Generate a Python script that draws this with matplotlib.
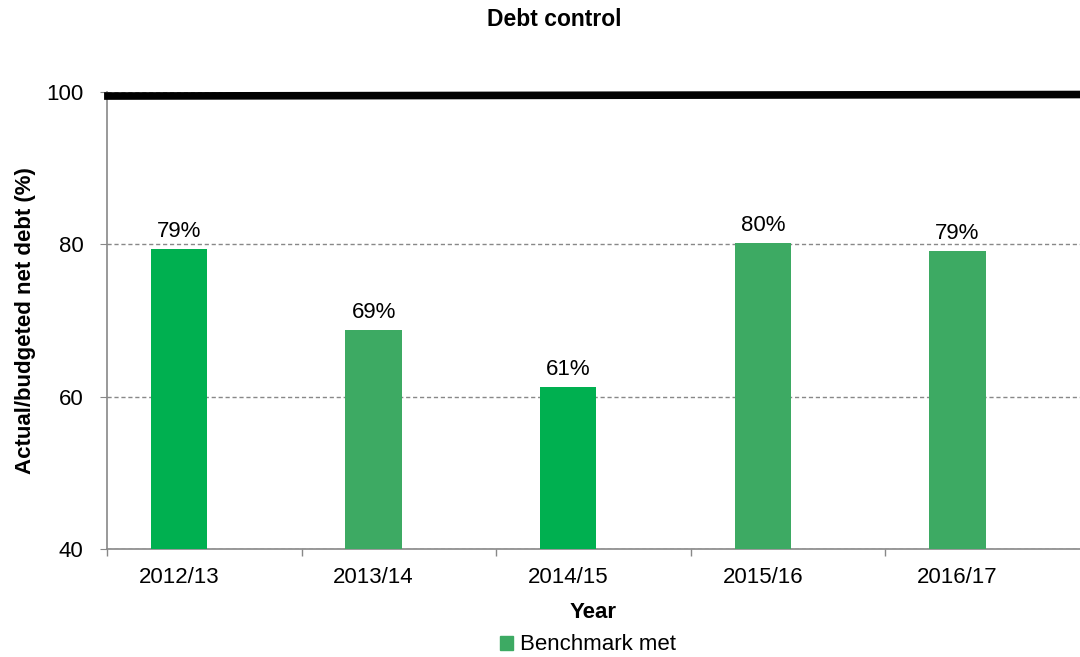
import matplotlib
matplotlib.use("Agg")
import matplotlib.pyplot as plt
import numpy as np
from matplotlib.patches import Patch

plt.rcParams['font.family'] = ['Liberation Sans', 'DejaVu Sans']

years = ["2012/13", "2013/14", "2014/15", "2015/16", "2016/17"]
values = [79.4, 68.8, 61.3, 80.2, 79.1]
labels = ["79%", "69%", "61%", "80%", "79%"]
bar_colors = ["#00B050", "#3DAA63", "#00B050", "#3DAA63", "#3DAA63"]
benchmark_ends = [99.47, 99.67]
legend_label = "Benchmark met"

FS = 16

fig = plt.figure(figsize=(10.8, 6.57), dpi=100)
ax = fig.add_axes([107/1080, 1-549/657, 1-107/1080, (549-92)/657])

x = np.arange(len(years))
ax.bar(x, values, width=0.29, color=bar_colors, zorder=3)
for xi, v, lab in zip(x, values, labels):
    ax.text(xi, v + 0.9, lab, ha='center', va='bottom', fontsize=FS, color='black', zorder=4)

xmin, xmax = -0.37, 4.63
ax.plot([xmin - 0.015, xmax], benchmark_ends, color='black', lw=5.5, zorder=5, clip_on=False,
        solid_capstyle='butt')

ax.set_xlim(xmin, xmax)
ax.set_ylim(40, 100)
ax.set_yticks([40, 60, 80, 100])
ax.set_xticks(x)
ax.set_xticklabels(years, fontsize=FS)
ax.tick_params(axis='x', length=0, pad=13)
ax.set_xticks(x - 0.37, minor=True)
ax.tick_params(axis='x', which='minor', length=5, color='#888888', width=1)
ax.tick_params(axis='y', labelsize=FS, length=5, color='#888888', direction='out', pad=12)
ax.grid(axis='y', color='#888888', linestyle=(0, (3, 2)), lw=1, zorder=0)

for s in ['top', 'right']:
    ax.spines[s].set_visible(False)
for s in ['left', 'bottom']:
    ax.spines[s].set_color('#888888')
    ax.spines[s].set_linewidth(1.2)

ax.set_ylabel("Actual/budgeted net debt (%)", fontsize=FS, fontweight='bold')
ax.yaxis.set_label_coords(-0.073, 0.5)
ax.set_xlabel("Year", fontsize=FS, fontweight='bold', labelpad=10)

fig.text(554/1080, 1-20/657, "Debt control", ha='center', va='center', fontsize=16.5, fontweight='bold')

fig.legend(handles=[Patch(color="#3DAA63", label=legend_label)], loc='center',
           bbox_to_anchor=(588/1080, 1-645/657), frameon=False, fontsize=FS,
           handlelength=0.6, handleheight=0.6, handletextpad=0.3)

fig.savefig("out.png", dpi=100)
